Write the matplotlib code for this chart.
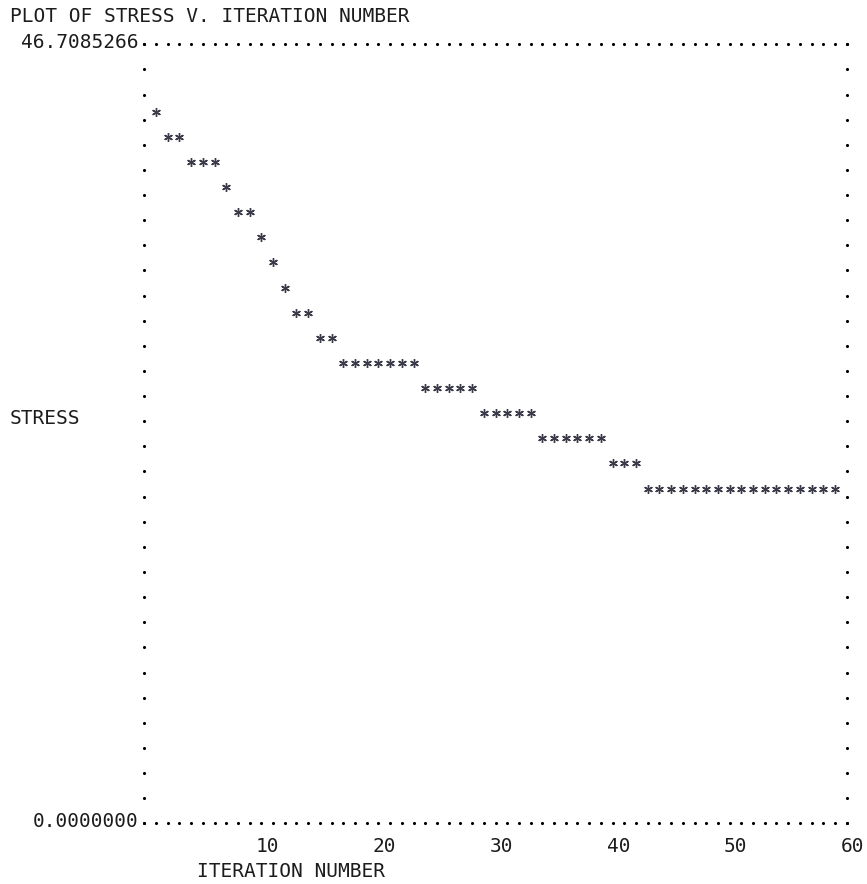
import numpy as np
import matplotlib
matplotlib.use('Agg')
import matplotlib.pyplot as plt
from matplotlib.transforms import ScaledTranslation

# 数据：每次迭代的 stress 值
iteration = list(range(1, 60))
stress = [42.35,
          41.02, 40.21,
          39.64, 39.12, 38.57,
          37.45,
          36.71, 35.94,
          34.82,
          33.30,
          31.77,
          30.52, 29.90,
          28.95, 28.31,
          27.70, 27.48, 27.31, 27.15, 26.98, 26.72, 26.45,
          26.21, 25.93, 25.66, 25.40, 25.12,
          24.78, 24.47, 24.20, 23.96, 23.70,
          23.28, 23.05, 22.81, 22.55, 22.31, 22.02,
          21.71, 21.22, 20.63,
          20.18, 20.05, 19.96, 19.89, 19.82, 19.77, 19.73, 19.70, 19.67,
          19.65, 19.63, 19.61, 19.60, 19.59, 19.58, 19.58, 19.57]
y_max = 46.7085266
y_min = 0.0
x_ticks = [10, 20, 30, 40, 50, 60]
n_cols = 60   # 字符列数
n_rows = 31   # 字符行数

mono = 'DejaVu Sans Mono'
fs = 14
ink = '#1c1c1c'

fig = plt.figure(figsize=(8.67, 8.84), dpi=100)
W, H = 867, 884
# 轴区域：左列 x=144px，右列 x=847px，顶行 y=44px，底行 y=823px
ax = fig.add_axes([144.3 / W, 1 - 823.3 / H, (846.7 - 144.3) / W, (823.3 - 44.3) / H])
ax.set_xlim(0, n_cols)
ax.set_ylim(y_min, y_max)
ax.axis('off')

# 点线边框
step = (y_max - y_min) / n_rows
cols = np.arange(0, n_cols + 1)
rows = y_min + np.arange(0, n_rows + 1) * step
ax.scatter(cols, np.full(cols.shape, y_max), s=5, c='black', linewidths=0, clip_on=False)
ax.scatter(cols, np.full(cols.shape, y_min), s=5, c='black', linewidths=0, clip_on=False)
ax.scatter(np.zeros(rows.shape), rows, s=5, c='black', linewidths=0, clip_on=False)
ax.scatter(np.full(rows.shape, n_cols), rows, s=5, c='black', linewidths=0, clip_on=False)

# 星号：按字符行取整
yq = y_min + np.round((np.array(stress) - y_min) / step) * step
star_tr = ax.transData + ScaledTranslation(0, 8 / 100, fig.dpi_scale_trans)
ax.plot(iteration, yq, linestyle='none', marker=(6, 2, 0), markersize=6.3,
        markeredgewidth=1.0, color='#3a3a48', transform=star_tr, clip_on=False)

# 文字
fig.text(10 / W, 1 - 22 / H, 'PLOT OF STRESS V. ITERATION NUMBER', family=mono,
         fontsize=fs, color=ink, ha='left', va='baseline')
ax.annotate('46.7085266', xy=(0, y_max), xytext=(-6, -4), textcoords='offset pixels',
            family=mono, fontsize=fs, color=ink, ha='right', va='baseline',
            annotation_clip=False)
ax.annotate('0.0000000', xy=(0, y_min), xytext=(-6, -4), textcoords='offset pixels',
            family=mono, fontsize=fs, color=ink, ha='right', va='baseline',
            annotation_clip=False)
fig.text(10 / W, 1 - 424 / H, 'STRESS', family=mono, fontsize=fs, color=ink,
         ha='left', va='baseline')
for t in x_ticks:
    ax.annotate(str(t), xy=(t + 0.5, y_min), xytext=(0, -29), textcoords='offset pixels',
                family=mono, fontsize=fs, color=ink, ha='center', va='baseline',
                annotation_clip=False)
ax.annotate('ITERATION NUMBER', xy=(12.5, y_min), xytext=(0, -54), textcoords='offset pixels',
            family=mono, fontsize=fs, color=ink, ha='center', va='baseline',
            annotation_clip=False)

fig.savefig('out.png', dpi=100)
